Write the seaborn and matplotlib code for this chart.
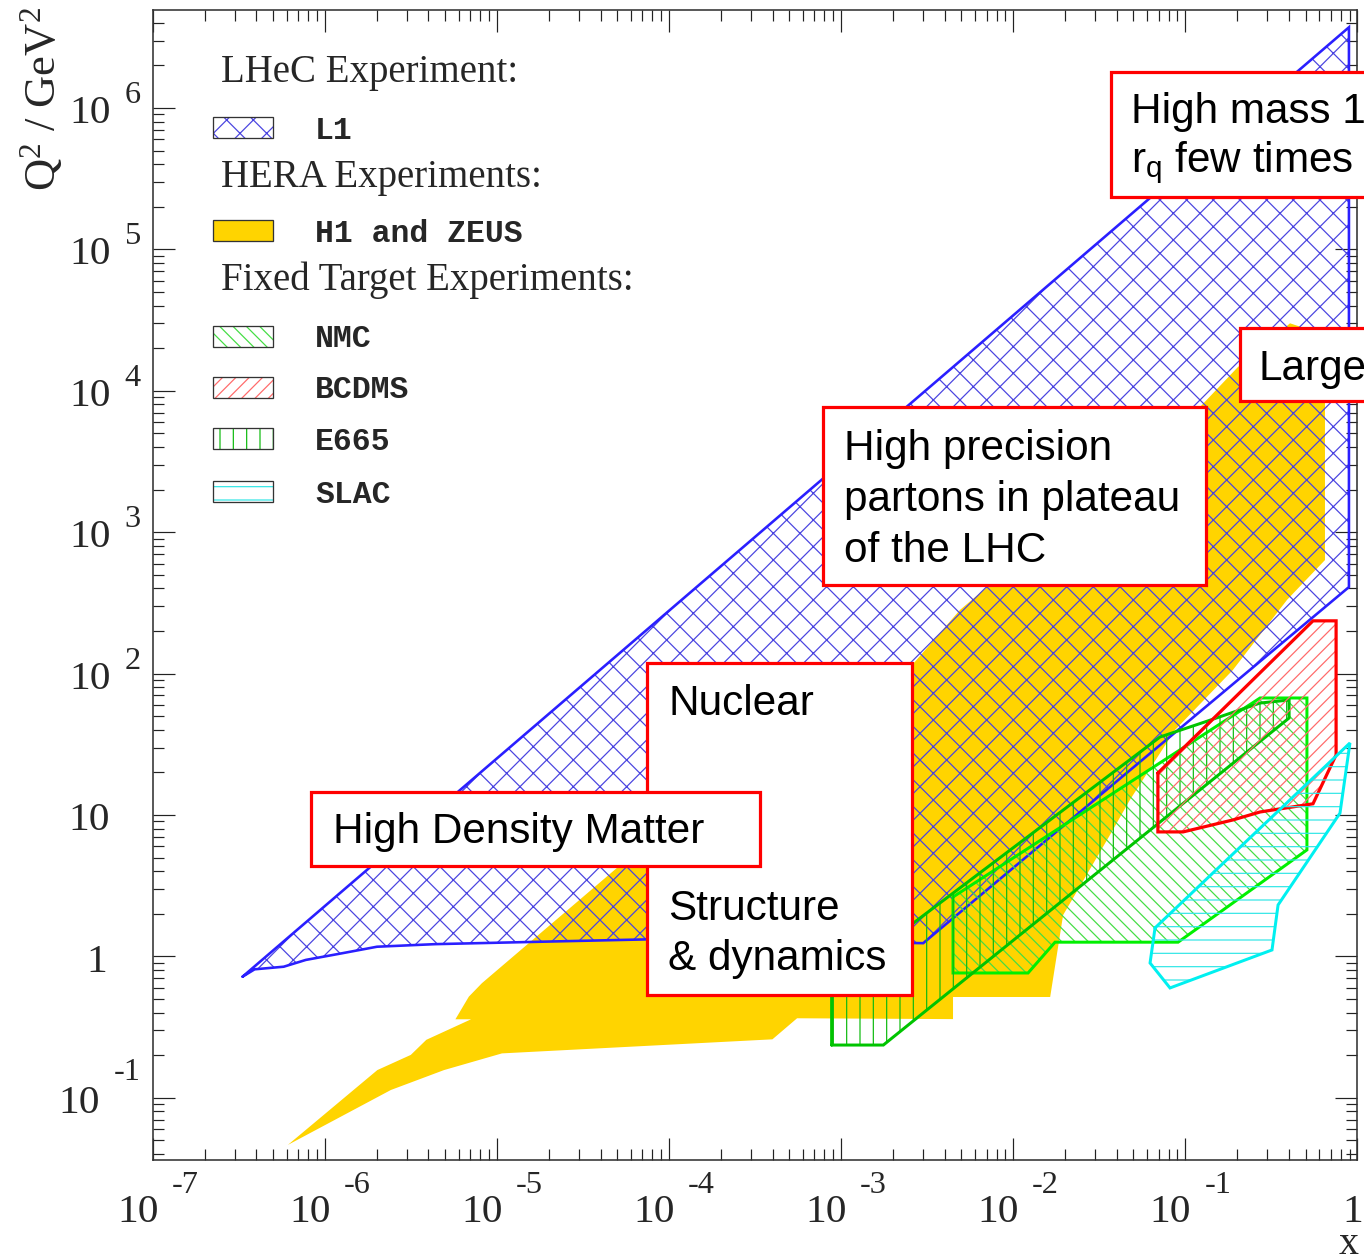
import numpy as np
import pandas as pd
import matplotlib
matplotlib.use("Agg")
import matplotlib.pyplot as plt
import seaborn as sns
from matplotlib.patches import Polygon, Rectangle
from matplotlib.ticker import LogLocator, NullFormatter

# ---------------- data: x (Bjorken) and Q^2 [GeV^2] polygon vertices ----------------
l1_x = [3.33e-7, 3.91e-7, 5.77e-7, 7.76e-7, 1.25e-6, 2.01e-6, 4.36e-6, 1.84e-5, 7.7e-5,
        3.0e-3, 0.893, 0.893]
l1_q2 = [0.719, 0.81, 0.845, 0.944, 1.05, 1.17, 1.22, 1.27, 1.32,
         1.24, 409.0, 3.72e6]

hera_x = [6.1e-7, 2.02e-6, 3.16e-6, 3.89e-6, 7.08e-6, 5.74e-6, 6.87e-6, 8.18e-6, 3.16e-5,
          5.06e-5, 2.65e-3, 4.91e-3, 0.1216, 0.202, 0.406, 0.648, 0.648, 0.390, 0.189,
          0.0871, 0.0477, 0.0365, 0.0195, 0.0164, 4.47e-3, 4.47e-3, 5.55e-4, 3.99e-4,
          1.07e-5, 4.93e-6, 2.42e-6]
hera_q2 = [0.0464, 0.157, 0.201, 0.257, 0.359, 0.359, 0.519, 0.646, 2.63,
           4.29, 119.0, 282.0, 7670.0, 14700.0, 30000.0, 24800.0, 635.0, 332.0, 106.0,
           39.9, 12.8, 7.22, 1.96, 0.516, 0.516, 0.360, 0.365, 0.259,
           0.206, 0.157, 0.1135]

nmc_x = [4.47e-3, 0.272, 0.509, 0.509, 0.0908, 0.0175, 0.0122, 4.47e-3]
nmc_q2 = [2.63, 67.2, 67.2, 5.66, 1.26, 1.26, 0.763, 0.763]

e665_x = [8.81e-4, 1.76e-3, 0.401, 0.401, 0.272, 0.130, 0.0713, 2.58e-3, 8.81e-4]
e665_q2 = [0.236, 0.236, 48.5, 65.0, 61.9, 45.5, 35.6, 1.69, 0.63]

bcdms_x = [0.0693, 0.0693, 0.0971, 0.189, 0.272, 0.552, 0.752, 0.752, 0.552]
bcdms_q2 = [19.8, 7.59, 7.59, 9.22, 10.5, 12.0, 26.6, 236.0, 236.0]

slac_x = [0.0667, 0.905, 0.792, 0.346, 0.319, 0.0815, 0.0624]
slac_q2 = [1.59, 32.3, 10.3, 2.31, 1.11, 0.598, 0.898]

x_exponents = [-7, -6, -5, -4, -3, -2, -1, 0]
y_exponents = [-1, 0, 1, 2, 3, 4, 5, 6]

legend_headers = ["LHeC Experiment:", "HERA Experiments:", "Fixed Target Experiments:"]
legend_labels = ["L1", "H1 and ZEUS", "NMC", "BCDMS", "E665", "SLAC"]

# ---------------- styling ----------------
sns.set_theme(style="white")
plt.rcParams["font.family"] = ["Liberation Serif", "DejaVu Serif"]
plt.rcParams["mathtext.fontset"] = "custom"
plt.rcParams["mathtext.rm"] = "Liberation Serif"
plt.rcParams["mathtext.it"] = "Liberation Serif:italic"
plt.rcParams["hatch.linewidth"] = 0.55

DPI = 160
W, H = 1364, 1256
PT = 72.0 / DPI  # points per pixel

C_YEL = "#ffd400"
C_L1_E, C_L1_H = "#2a1fff", "#4a44e0"
C_NMC_E, C_NMC_H = "#00f000", "#44dd44"
C_E665_E, C_E665_H = "#00c400", "#11bb11"
C_BCD_E, C_BCD_H = "#ff0000", "#ff6a6a"
C_SLAC_E, C_SLAC_H = "#00f0f0", "#33e6e6"

H_L1, H_NMC, H_E665, H_BCD, H_SLAC = "xx", "\\\\\\\\", "||", "////", "--"

fig = plt.figure(figsize=(W / DPI, H / DPI), dpi=DPI)
fig.patch.set_facecolor("white")


def fx(p):
    return p / W


def fy(p):
    return 1 - p / H


ax_l, ax_r, ax_t, ax_b = 152.7, 1357.4, 10.0, 1160.0
ax = fig.add_axes([fx(ax_l), fy(ax_b), (ax_r - ax_l) / W, (ax_b - ax_t) / H])
ax.set_facecolor("white")
ax.set_xscale("log")
ax.set_yscale("log")
ax.set_xlim(1e-7, 1.0)
ax.set_ylim(0.0363, 4.93e6)


def region(xs, ys, hatch, hcol, ecol, lw, z, fill=None):
    pts = np.column_stack([xs, ys])
    if fill is not None:
        ax.add_patch(Polygon(pts, closed=True, facecolor=fill, edgecolor="none",
                             linewidth=0, zorder=z))
        return
    ax.add_patch(Polygon(pts, closed=True, facecolor="none", edgecolor=hcol,
                         hatch=hatch, linewidth=0, zorder=z))
    df = pd.DataFrame({"x": list(xs) + [xs[0]], "q2": list(ys) + [ys[0]]})
    sns.lineplot(data=df, x="x", y="q2", sort=False, estimator=None, color=ecol,
                 lw=lw, ax=ax, zorder=z + 0.1, solid_joinstyle="miter")


region(hera_x, hera_q2, None, None, None, 0, 1, fill=C_YEL)
region(l1_x, l1_q2, H_L1, C_L1_H, C_L1_E, 2.6 * PT, 2)
region(nmc_x, nmc_q2, H_NMC, C_NMC_H, C_NMC_E, 3.0 * PT, 3)
region(e665_x, e665_q2, H_E665, C_E665_H, C_E665_E, 3.0 * PT, 4)
region(bcdms_x, bcdms_q2, H_BCD, C_BCD_H, C_BCD_E, 3.2 * PT, 5)
region(slac_x, slac_q2, H_SLAC, C_SLAC_H, C_SLAC_E, 3.0 * PT, 6)

ax.set_xlabel("")
ax.set_ylabel("")

# ---------------- axes frame & ticks ----------------
for s in ax.spines.values():
    s.set_color("#333333")
    s.set_linewidth(1.6 * PT)
    s.set_zorder(20)
for a in (ax.xaxis, ax.yaxis):
    a.set_major_locator(LogLocator(base=10, numticks=30))
    a.set_minor_locator(LogLocator(base=10, subs=np.arange(2, 10), numticks=300))
    a.set_minor_formatter(NullFormatter())
ax.tick_params(which="both", direction="in", top=True, right=True, bottom=True, left=True,
               labelbottom=False, labelleft=False, color="#222222")
ax.tick_params(which="major", length=22 * PT, width=1.2 * PT)
ax.tick_params(which="minor", length=11 * PT, width=1.2 * PT)

FS_TICK = 18.6
FS_EXP = 14.6
for e in x_exponents:
    xv = 10.0 ** e
    if e == 0:
        ax.annotate("1", xy=(xv, 0), xycoords=("data", "axes fraction"),
                    xytext=(-5 * PT, -62 * PT), textcoords="offset points",
                    ha="center", va="baseline", fontsize=FS_TICK, annotation_clip=False)
    else:
        ax.annotate("10", xy=(xv, 0), xycoords=("data", "axes fraction"),
                    xytext=(6 * PT, -62 * PT), textcoords="offset points",
                    ha="right", va="baseline", fontsize=FS_TICK, annotation_clip=False)
        ax.annotate(f"-{abs(e)}", xy=(xv, 0), xycoords=("data", "axes fraction"),
                    xytext=(19 * PT, -33 * PT), textcoords="offset points",
                    ha="left", va="baseline", fontsize=FS_EXP, annotation_clip=False)

for e in y_exponents:
    yv = 10.0 ** e
    if e == 0:
        ax.annotate("1", xy=(0, yv), xycoords=("axes fraction", "data"),
                    xytext=(-46 * PT, -16 * PT), textcoords="offset points",
                    ha="right", va="baseline", fontsize=FS_TICK, annotation_clip=False)
    elif e == 1:
        ax.annotate("10", xy=(0, yv), xycoords=("axes fraction", "data"),
                    xytext=(-43 * PT, -15 * PT), textcoords="offset points",
                    ha="right", va="baseline", fontsize=FS_TICK, annotation_clip=False)
    else:
        s = f"-{abs(e)}" if e < 0 else str(e)
        w = 16 * len(str(abs(e))) + (11 if e < 0 else 0)
        ax.annotate(s, xy=(0, yv), xycoords=("axes fraction", "data"),
                    xytext=(-(12 + w) * PT, (18 if e < 0 else 5) * PT),
                    textcoords="offset points", ha="left", va="baseline",
                    fontsize=FS_EXP, annotation_clip=False)
        ax.annotate("10", xy=(0, yv), xycoords=("axes fraction", "data"),
                    xytext=(-(12 + w + 14) * PT, -15 * PT), textcoords="offset points",
                    ha="right", va="baseline", fontsize=FS_TICK, annotation_clip=False)

# axis titles
fig.text(fx(42), fy(7), r"Q$^{\mathregular{2}}$ / GeV$^{\mathregular{2}}$", rotation=90,
         ha="center", va="top", fontsize=20.0, family=["Liberation Serif", "DejaVu Serif"])
fig.text(fx(1349), fy(1254), "x", ha="center", va="baseline", fontsize=18.0,
         family=["Liberation Serif", "DejaVu Serif"])

# ---------------- legend (drawn manually) ----------------
header_base = [82, 187, 290]
for txt, b in zip(legend_headers, header_base):
    fig.text(fx(221), fy(b), txt, ha="left", va="baseline", fontsize=17.5,
             family=["Liberation Serif", "DejaVu Serif"], zorder=30)

swatch_top = [117, 220, 325.5, 376.5, 428, 481]
swatch_style = [(H_L1, C_L1_H, None), (None, None, C_YEL), (H_NMC, C_NMC_H, None),
                (H_BCD, C_BCD_H, None), (H_E665, C_E665_H, None), (H_SLAC, C_SLAC_H, None)]
for lab, top, (hat, hcol, fcol) in zip(legend_labels, swatch_top, swatch_style):
    r0 = (fx(213), fy(top + 21))
    wdt, hgt = 60 / W, 21 / H
    if fcol is not None:
        fig.add_artist(Rectangle(r0, wdt, hgt, transform=fig.transFigure, facecolor=fcol,
                                 edgecolor="none", lw=0, zorder=30))
    else:
        fig.add_artist(Rectangle(r0, wdt, hgt, transform=fig.transFigure, facecolor="white",
                                 edgecolor=hcol, hatch=hat, lw=0, zorder=30))
    fig.add_artist(Rectangle(r0, wdt, hgt, transform=fig.transFigure, facecolor="none",
                             edgecolor="#333333", lw=1.3 * PT, zorder=31))
    fig.text(fx(315), fy(top + 10.5), lab, ha="left", va="center_baseline", fontsize=14.2,
             family=["Liberation Mono", "DejaVu Sans Mono"], weight="bold", zorder=31)

# ---------------- annotation boxes ----------------
SANS = ["Liberation Sans", "DejaVu Sans"]
FS_BOX = 19.0


def box(x0, y0, x1, y1, z):
    fig.add_artist(Rectangle((fx(x0), fy(y1)), (x1 - x0) / W, (y1 - y0) / H,
                             transform=fig.transFigure, facecolor="white",
                             edgecolor="#ff0000", lw=3.2 * PT, zorder=z))


def btxt(x, base, s, z):
    fig.text(fx(x), fy(base), s, ha="left", va="baseline", fontsize=FS_BOX,
             family=SANS, color="black", zorder=z)


box(1111, 72, 1400, 197, 40)
btxt(1131, 123, "High mass 1", 41)
btxt(1131, 172, r"r$_{\mathregular{q}}$ few times", 41)

box(1240, 328, 1400, 401, 40)
btxt(1259, 380, "Large", 41)

box(823, 407, 1206, 585, 40)
btxt(844, 460, "High precision", 41)
btxt(844, 511, "partons in plateau", 41)
btxt(844, 562, "of the LHC", 41)

box(647, 663, 912, 995, 40)
btxt(668, 715, "Nuclear", 41)
btxt(668, 920, "Structure", 41)
btxt(668, 970, "& dynamics", 41)

box(311, 792, 760, 866, 42)
btxt(333, 843, "High Density Matter", 43)

fig.savefig("out.png", dpi=DPI, facecolor="white")
